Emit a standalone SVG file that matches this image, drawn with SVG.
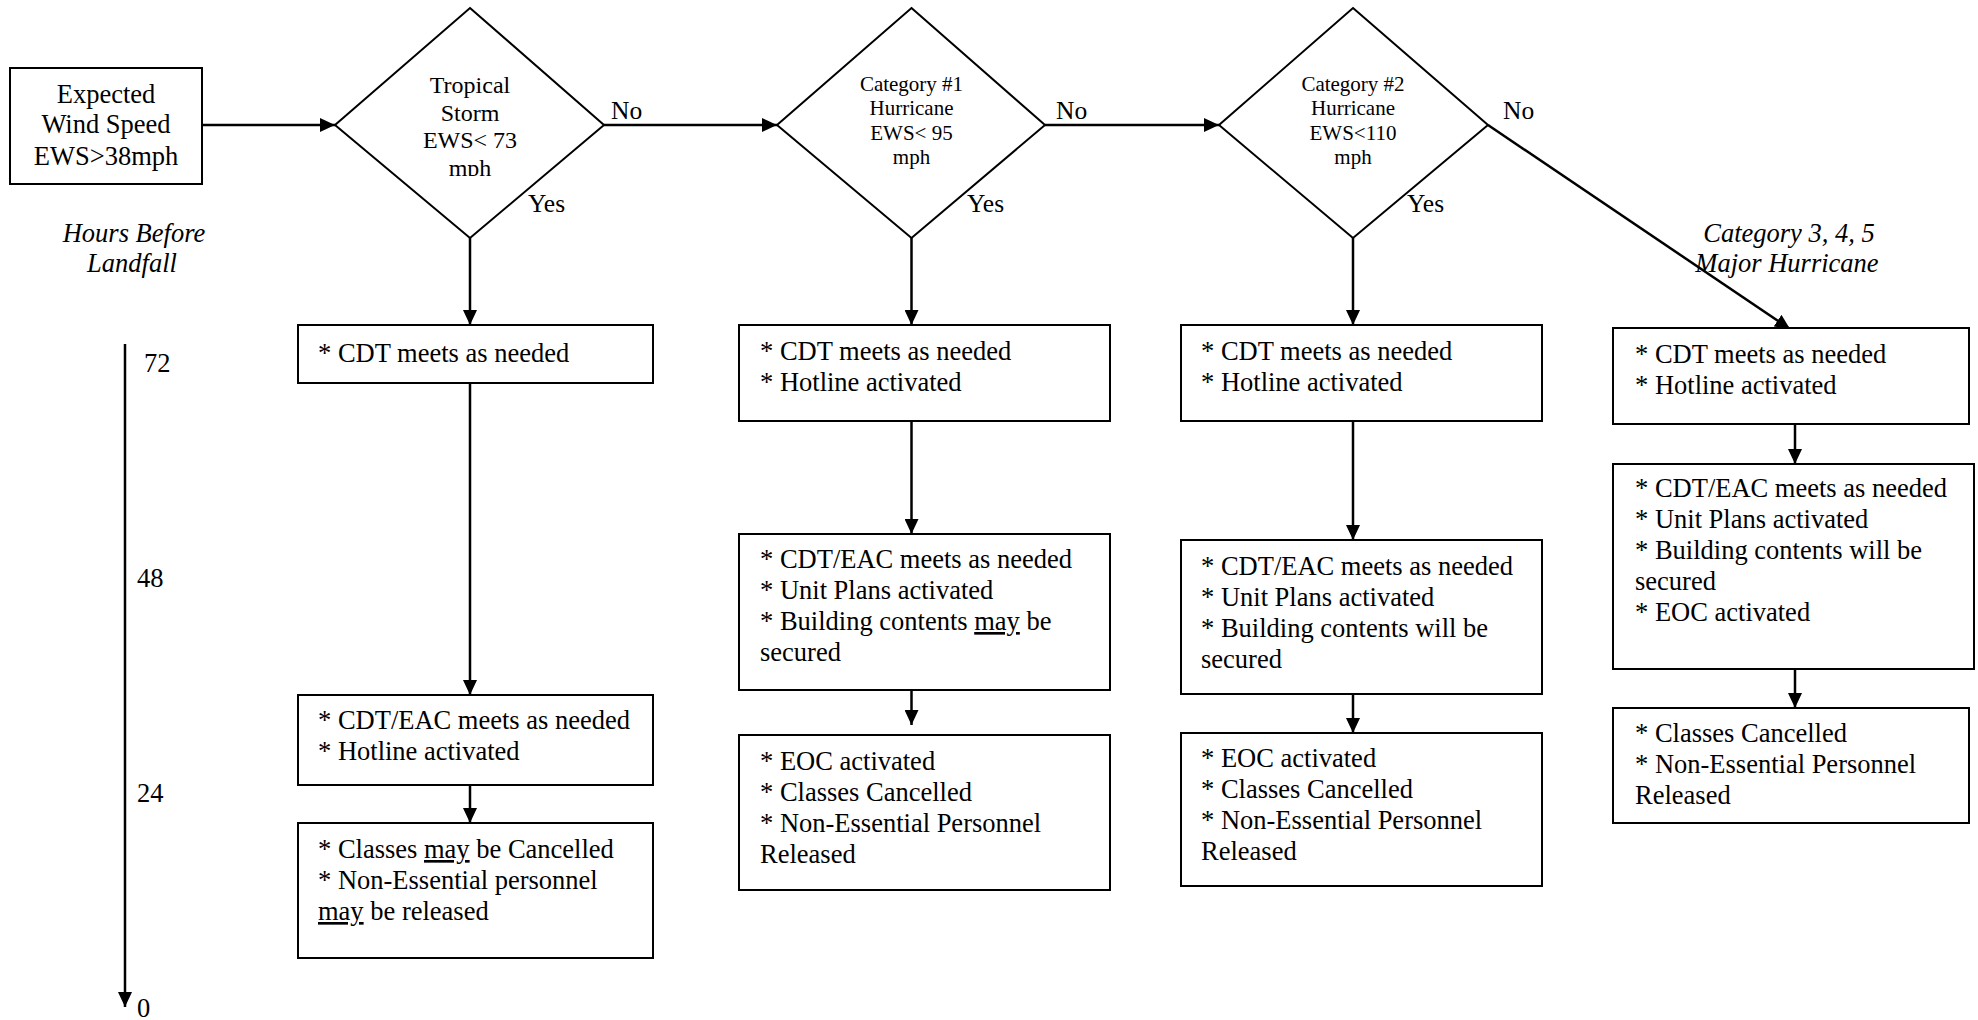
<svg xmlns="http://www.w3.org/2000/svg" width="1978" height="1020" viewBox="0 0 1978 1020">
<style>
.box{fill:#fff;stroke:#000;stroke-width:2}
.dia{fill:#fff;stroke:#000;stroke-width:2}
.t{font-family:"Liberation Serif","Times New Roman",serif;font-size:26.5px;fill:#000}
.dt{font-size:24px}
.ct{font-size:21px}
.lbl{font-size:25.5px}
.it{font-style:italic}
.m{text-anchor:middle}
.u{text-decoration:underline}
.conn{stroke:#000;stroke-width:2.5;fill:none}
</style>
<defs>
<marker id="arr" markerUnits="userSpaceOnUse" markerWidth="16" markerHeight="14" refX="15" refY="7" orient="auto">
<path d="M0,0 L15,7 L0,14 Z" fill="#000"/>
</marker>
<clipPath id="clipTS"><rect x="335" y="0" width="270" height="176"/></clipPath>
</defs>
<rect width="1978" height="1020" fill="#fff"/>

<g id="connectors">
<path class="conn" d="M202,125 H335" marker-end="url(#arr)"/>
<path class="conn" d="M604,125 H777" marker-end="url(#arr)"/>
<path class="conn" d="M1045,125 H1219" marker-end="url(#arr)"/>
<path class="conn" d="M470,238 V325" marker-end="url(#arr)"/>
<path class="conn" d="M470,384 V695" marker-end="url(#arr)"/>
<path class="conn" d="M470,785 V823" marker-end="url(#arr)"/>
<path class="conn" d="M911.5,238 V325" marker-end="url(#arr)"/>
<path class="conn" d="M911.5,421 V534" marker-end="url(#arr)"/>
<path class="conn" d="M911.5,690 V725" marker-end="url(#arr)"/>
<path class="conn" d="M1353,238 V325" marker-end="url(#arr)"/>
<path class="conn" d="M1353,421 V540" marker-end="url(#arr)"/>
<path class="conn" d="M1353,694 V733" marker-end="url(#arr)"/>
<path class="conn" d="M1488,125 L1790,329" marker-end="url(#arr)"/>
<path class="conn" d="M1795,424 V464" marker-end="url(#arr)"/>
<path class="conn" d="M1795,669 V708" marker-end="url(#arr)"/>
<path class="conn" d="M125,344 V1007" marker-end="url(#arr)"/>
</g>

<g id="labels">
<text class="t lbl" x="611" y="119">No</text>
<text class="t lbl" x="1056" y="119">No</text>
<text class="t lbl" x="1503" y="119">No</text>
<text class="t lbl" x="528" y="212">Yes</text>
<text class="t lbl" x="967" y="212">Yes</text>
<text class="t lbl" x="1407" y="212">Yes</text>
<text class="t it m" x="134" y="242">Hours Before</text>
<text class="t it m" x="132" y="272">Landfall</text>
<text class="t it m" x="1789" y="242">Category 3, 4, 5</text>
<text class="t it m" x="1787" y="272">Major Hurricane</text>
<text class="t" x="144" y="372">72</text>
<text class="t" x="137" y="587">48</text>
<text class="t" x="137" y="802">24</text>
<text class="t" x="137" y="1017">0</text>
</g>

<g id="start">
<rect class="box" x="10" y="68" width="192" height="116"/>
<text class="t m" x="106" y="103">Expected</text>
<text class="t m" x="106" y="133">Wind Speed</text>
<text class="t m" x="106" y="165">EWS&gt;38mph</text>
</g>

<g id="d1">
<polygon class="dia" points="470,8 604,125 470,238 335,125"/>
<g clip-path="url(#clipTS)">
<text class="t dt m" x="470" y="93">Tropical</text>
<text class="t dt m" x="470" y="121">Storm</text>
<text class="t dt m" x="470" y="148">EWS&lt; 73</text>
<text class="t dt m" x="470" y="176">mph</text>
</g>
</g>

<g id="d2">
<polygon class="dia" points="911.5,8 1045,125 911.5,238 777,125"/>
<text class="t ct m" x="911.5" y="91">Category #1</text>
<text class="t ct m" x="911.5" y="115">Hurricane</text>
<text class="t ct m" x="911.5" y="140">EWS&lt; 95</text>
<text class="t ct m" x="911.5" y="164">mph</text>
</g>

<g id="d3">
<polygon class="dia" points="1353,8 1488,125 1353,238 1219,125"/>
<text class="t ct m" x="1353" y="91">Category #2</text>
<text class="t ct m" x="1353" y="115">Hurricane</text>
<text class="t ct m" x="1353" y="140">EWS&lt;110</text>
<text class="t ct m" x="1353" y="164">mph</text>
</g>

<g id="ts1">
<rect class="box" x="298" y="325" width="355" height="58"/>
<text class="t" x="318" y="362">* CDT meets as needed</text>
</g>
<g id="ts2">
<rect class="box" x="298" y="695" width="355" height="90"/>
<text class="t" x="318" y="729">* CDT/EAC meets as needed</text>
<text class="t" x="318" y="760">* Hotline activated</text>
</g>
<g id="ts3">
<rect class="box" x="298" y="823" width="355" height="135"/>
<text class="t" x="318" y="858">* Classes <tspan class="u">may</tspan> be Cancelled</text>
<text class="t" x="318" y="889">* Non-Essential personnel</text>
<text class="t" x="318" y="920"><tspan class="u">may</tspan> be released</text>
</g>

<g id="c1a">
<rect class="box" x="739" y="325" width="371" height="96"/>
<text class="t" x="760" y="360">* CDT meets as needed</text>
<text class="t" x="760" y="391">* Hotline activated</text>
</g>
<g id="c1b">
<rect class="box" x="739" y="534" width="371" height="156"/>
<text class="t" x="760" y="568">* CDT/EAC meets as needed</text>
<text class="t" x="760" y="599">* Unit Plans activated</text>
<text class="t" x="760" y="630">* Building contents <tspan class="u">may</tspan> be</text>
<text class="t" x="760" y="661">secured</text>
</g>
<g id="c1c">
<rect class="box" x="739" y="735" width="371" height="155"/>
<text class="t" x="760" y="770">* EOC activated</text>
<text class="t" x="760" y="801">* Classes Cancelled</text>
<text class="t" x="760" y="832">* Non-Essential Personnel</text>
<text class="t" x="760" y="863">Released</text>
</g>

<g id="c2a">
<rect class="box" x="1181" y="325" width="361" height="96"/>
<text class="t" x="1201" y="360">* CDT meets as needed</text>
<text class="t" x="1201" y="391">* Hotline activated</text>
</g>
<g id="c2b">
<rect class="box" x="1181" y="540" width="361" height="154"/>
<text class="t" x="1201" y="575">* CDT/EAC meets as needed</text>
<text class="t" x="1201" y="606">* Unit Plans activated</text>
<text class="t" x="1201" y="637">* Building contents will be</text>
<text class="t" x="1201" y="668">secured</text>
</g>
<g id="c2c">
<rect class="box" x="1181" y="733" width="361" height="153"/>
<text class="t" x="1201" y="767">* EOC activated</text>
<text class="t" x="1201" y="798">* Classes Cancelled</text>
<text class="t" x="1201" y="829">* Non-Essential Personnel</text>
<text class="t" x="1201" y="860">Released</text>
</g>

<g id="m1">
<rect class="box" x="1613" y="328" width="356" height="96"/>
<text class="t" x="1635" y="363">* CDT meets as needed</text>
<text class="t" x="1635" y="394">* Hotline activated</text>
</g>
<g id="m2">
<rect class="box" x="1613" y="464" width="361" height="205"/>
<text class="t" x="1635" y="497">* CDT/EAC meets as needed</text>
<text class="t" x="1635" y="528">* Unit Plans activated</text>
<text class="t" x="1635" y="559">* Building contents will be</text>
<text class="t" x="1635" y="590">secured</text>
<text class="t" x="1635" y="621">* EOC activated</text>
</g>
<g id="m3">
<rect class="box" x="1613" y="708" width="356" height="115"/>
<text class="t" x="1635" y="742">* Classes Cancelled</text>
<text class="t" x="1635" y="773">* Non-Essential Personnel</text>
<text class="t" x="1635" y="804">Released</text>
</g>
</svg>
